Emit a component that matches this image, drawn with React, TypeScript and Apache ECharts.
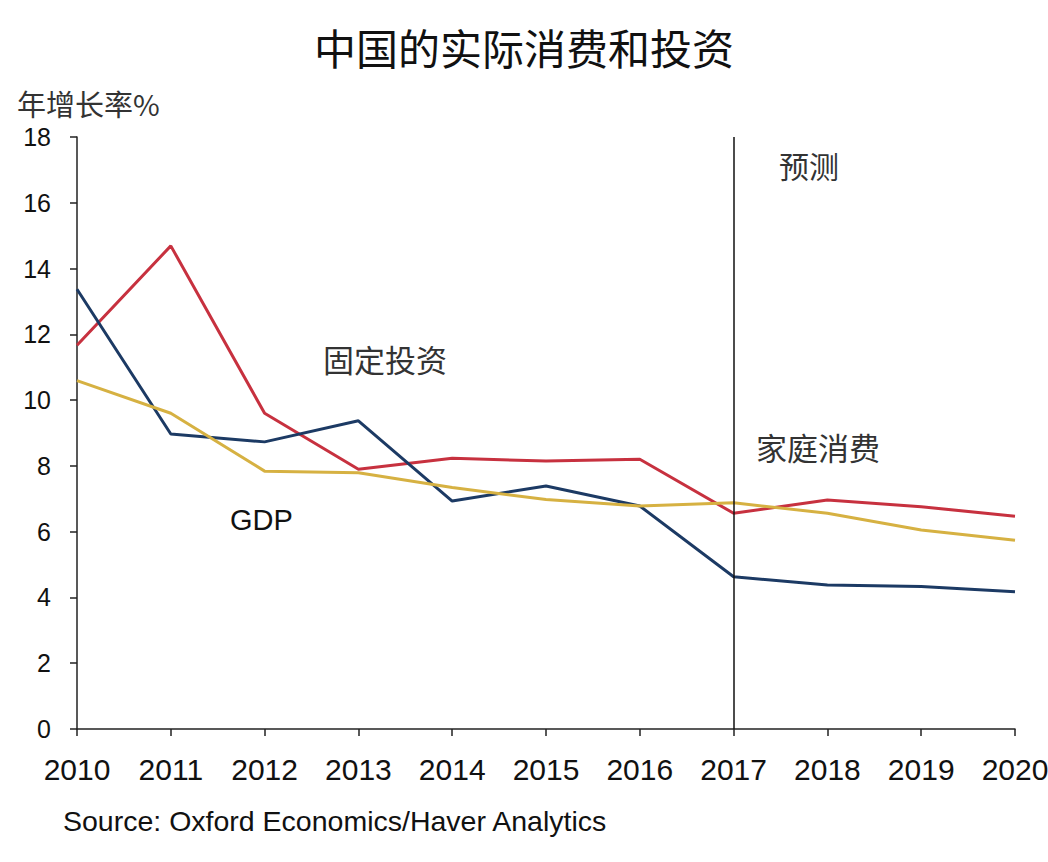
import React, { useEffect, useRef } from "react";
import * as echarts from "echarts";

const years = ["2010", "2011", "2012", "2013", "2014", "2015", "2016", "2017", "2018", "2019", "2020"];
const householdConsumption = [11.67, 14.69, 9.6, 7.9, 8.23, 8.15, 8.2, 6.56, 6.96, 6.76, 6.47];
const fixedInvestment = [13.37, 8.97, 8.73, 9.37, 6.93, 7.39, 6.78, 4.63, 4.38, 4.33, 4.17];
const gdp = [10.59, 9.6, 7.84, 7.79, 7.34, 6.98, 6.78, 6.88, 6.56, 6.05, 5.74];
const forecastStart = "2017";

export default function App() {
  const ref = useRef<HTMLDivElement>(null);
  useEffect(() => {
    if (!ref.current) return;
    const chart = echarts.init(ref.current, null, { renderer: "svg" });
    const sans = "Liberation Sans, Arial, sans-serif";
    const cjk = "Noto Sans CJK SC, sans-serif";
    chart.setOption({
      animation: false,
      backgroundColor: "#ffffff",
      grid: { left: 77, right: 33, top: 137, bottom: 133, containLabel: false, outerBoundsMode: "none" },
      title: {
        text: "中国的实际消费和投资",
        left: "center",
        top: 20,
        textStyle: { fontFamily: cjk, fontSize: 42, fontWeight: "normal", color: "#111" },
      },
      xAxis: {
        type: "category",
        data: years,
        boundaryGap: false,
        axisLine: { lineStyle: { color: "#222", width: 1.5 } },
        axisTick: { show: true, length: 7, lineStyle: { color: "#222", width: 1.5 } },
        axisLabel: {
          fontFamily: sans,
          fontSize: 30,
          color: "#111",
          margin: 25,
          interval: 0,
        },
        splitLine: { show: false },
      },
      yAxis: {
        type: "value",
        min: 0,
        max: 18,
        interval: 2,
        axisLine: { show: true, lineStyle: { color: "#222", width: 1.5 } },
        axisTick: { show: true, length: 7, lineStyle: { color: "#222", width: 1.5 } },
        axisLabel: { fontFamily: sans, fontSize: 25, color: "#111", margin: 26 },
        splitLine: { show: false },
      },
      graphic: [
        { type: "text", left: 17, top: 88, style: { text: "年增长率%", font: `29px ${cjk}`, fill: "#333" } },
        { type: "text", left: 323, top: 343, style: { text: "固定投资", font: `31px ${cjk}`, fill: "#333" } },
        { type: "text", left: 756, top: 431, style: { text: "家庭消费", font: `31px ${cjk}`, fill: "#333" } },
        { type: "text", left: 779, top: 150, style: { text: "预测", font: `30px ${cjk}`, fill: "#333" } },
        { type: "text", left: 230, top: 505, style: { text: "GDP", font: `29px ${sans}`, fill: "#111" } },
        {
          type: "text",
          left: 63,
          top: 806,
          style: { text: "Source: Oxford Economics/Haver Analytics", font: `28.5px ${sans}`, fill: "#111" },
        },
      ],
      series: [
        {
          name: "家庭消费",
          type: "line",
          data: householdConsumption,
          symbol: "none",
          lineStyle: { color: "#c7313f", width: 3 },
          markLine: {
            silent: true,
            symbol: "none",
            label: { show: false },
            lineStyle: { color: "#111", width: 1.5, type: "solid" },
            data: [{ xAxis: forecastStart }],
          },
        },
        {
          name: "固定投资",
          type: "line",
          data: fixedInvestment,
          symbol: "none",
          lineStyle: { color: "#1c3a64", width: 3 },
        },
        {
          name: "GDP",
          type: "line",
          data: gdp,
          symbol: "none",
          lineStyle: { color: "#d6b142", width: 3 },
        },
      ],
    });
    return () => chart.dispose();
  }, []);
  return <div ref={ref} style={{ position: "fixed", left: 0, top: 0, width: 1048, height: 862 }} />;
}
